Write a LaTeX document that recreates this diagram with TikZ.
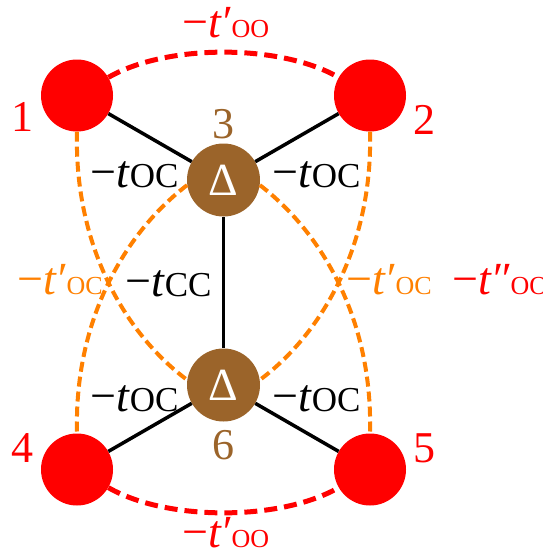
\documentclass[tikz,border=0pt]{standalone}
\usepackage{fontspec}
\setmainfont{Liberation Serif}
\definecolor{ored}{RGB}{255,0,0}
\definecolor{cbrown}{RGB}{155,100,42}
\definecolor{oorange}{RGB}{255,128,0}
\newcommand\fs[1]{\fontsize{#1}{#1}\selectfont}
\newcommand\hopp[3]{−\textit{t#1}{\fs{#3}#2}}
\begin{document}
\begin{tikzpicture}[x=1pt,y=-1pt,
  onode/.style={circle,fill=ored,minimum size=72pt,inner sep=0pt},
  cnode/.style={circle,fill=cbrown,minimum size=73pt,inner sep=0pt,text=white,font=\rmfamily\fs{46}},
  bond/.style={line width=3.5pt,black},
  oolink/.style={ored,line width=5pt,dash pattern=on 13pt off 7pt},
  oclink/.style={oorange,line width=4pt,dash pattern=on 10pt off 5pt},
  lbl/.style={anchor=base west,inner sep=0pt,font=\rmfamily\fs{46}},
  num/.style={inner sep=0pt,font=\rmfamily\fs{44}}]
\useasboundingbox (0,0) rectangle (543,555);
% atoms
\node[onode] (n1) at (77,95.5) {};
\node[onode] (n2) at (370,95.5) {};
\node[onode] (n4) at (77,469.5) {};
\node[onode] (n5) at (370,469.5) {};
\node[cnode] (n3) at (223.5,180) {Δ};
\node[cnode] (n6) at (223.5,385) {Δ};
% bonds
\draw[bond] (n1) -- (n3);
\draw[bond] (n2) -- (n3);
\draw[bond] (n3) -- (n6);
\draw[bond] (n4) -- (n6);
\draw[bond] (n5) -- (n6);
% O-O links
\draw[oolink] (n1) to[out=30,in=150,looseness=0.75] (n2);
\draw[oolink] (n4) to[out=-30,in=-150,looseness=0.75] (n5);
% O-C second neighbour links
\draw[oclink] (n1.south) .. controls +(-3,113.5) and +(-62,-46) .. (n6.172);
\draw[oclink] (n3.188) .. controls +(-62,47.4) and +(-3,-113.5) .. (n4.north);
\draw[oclink] (n2.south) .. controls +(3,113.5) and +(62,-46) .. (n6.8);
\draw[oclink] (n3.-8) .. controls +(62,47.4) and +(3,-113.5) .. (n5.north);
% site numbers
\node[num,text=ored] (k1) at (22,117) {1};
\node[num,text=ored] (k2) at (424,120) {2};
\node[num,text=cbrown] (k3) at (223.5,124) {3};
\node[num,text=ored] (k4) at (22,448) {4};
\node[num,text=ored] (k5) at (424,448) {5};
\node[num,text=cbrown] (k6) at (223.5,445) {6};
% hopping labels
\node[lbl,text=ored] (ltop) at (182,37) {\hopp{′}{OO}{26}};
\node[lbl,text=ored] (lbot) at (182,547) {\hopp{′}{OO}{26}};
\node[lbl] (l13) at (90,187) {\hopp{}{OC}{35}};
\node[lbl] (l23) at (272,187) {\hopp{}{OC}{35}};
\node[lbl] (l46) at (90,411) {\hopp{}{OC}{35}};
\node[lbl] (l56) at (272,411) {\hopp{}{OC}{35}};
\node[lbl] (lcc) at (125,296) {\hopp{}{CC}{35}};
\node[lbl,text=oorange] (lol) at (17,294) {\hopp{′}{OC}{26}};
\node[lbl,text=oorange] (lor) at (346,294) {\hopp{′}{OC}{26}};
\node[lbl,text=ored] (loo) at (452,294) {\hopp{″}{OO}{26}};
\end{tikzpicture}
\end{document}
